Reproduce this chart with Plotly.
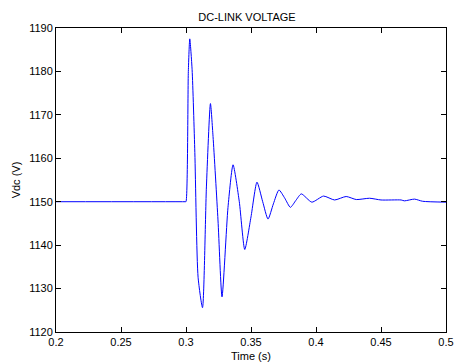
import plotly.graph_objects as go

# Time (s) and DC-link voltage (V)
time_s = [0.200, 0.2995, 0.3000, 0.3018, 0.3029, 0.3047, 0.3068, 0.3093, 0.3127,
          0.3157, 0.3188, 0.3208, 0.3246, 0.3277, 0.3323, 0.3362, 0.3410, 0.3452,
          0.3500, 0.3546, 0.3590, 0.3631, 0.3672, 0.3715, 0.3760, 0.3803, 0.3845,
          0.3887, 0.3968, 0.4058, 0.4143, 0.4232, 0.4310, 0.4412, 0.4500, 0.4655,
          0.4680, 0.4758, 0.4820, 0.5000]
vdc = [1150.0, 1150.0, 1150.0, 1180.0, 1187.5, 1180.4, 1161.3, 1132.6, 1125.6,
       1153.4, 1172.6, 1165.0, 1145.8, 1128.1, 1148.7, 1158.5, 1150.0, 1139.0,
       1146.5, 1154.5, 1150.0, 1146.0, 1149.5, 1152.7, 1150.8, 1148.7, 1150.3,
       1151.8, 1149.9, 1151.3, 1150.4, 1151.2, 1150.5, 1150.8, 1150.4, 1150.4,
       1150.2, 1150.6, 1150.1, 1149.9]

x_ticks = [0.2, 0.25, 0.3, 0.35, 0.4, 0.45, 0.5]
x_tick_labels = ["0.2", "0.25", "0.3", "0.35", "0.4", "0.45", "0.5"]
y_ticks = [1120, 1130, 1140, 1150, 1160, 1170, 1180, 1190]

font_family = "Liberation Sans, Arial, sans-serif"

fig = go.Figure()
fig.add_trace(go.Scatter(
    x=time_s, y=vdc, mode="lines",
    line=dict(color="#0000ff", width=1, shape="spline", smoothing=0.6),
    showlegend=False,
))

axis_common = dict(
    showline=True, linecolor="#000000", linewidth=1, mirror="ticks",
    ticks="inside", ticklen=5, tickcolor="#000000", tickwidth=1,
    showgrid=False, zeroline=False,
    tickfont=dict(family=font_family, size=11, color="#000000"),
)

fig.update_layout(
    width=454, height=364,
    margin=dict(l=56, r=8, t=28, b=32),
    paper_bgcolor="#ffffff", plot_bgcolor="#ffffff",
    font=dict(family=font_family, size=11, color="#000000"),
    title=dict(text="DC-LINK VOLTAGE", x=0.544, xanchor="center",
               y=0.953, yanchor="middle",
               font=dict(family=font_family, size=11, color="#000000")),
    xaxis=dict(range=[0.2, 0.5], tickvals=x_ticks, ticktext=x_tick_labels,
               title=dict(text="Time (s)", standoff=5,
                          font=dict(family=font_family, size=11)),
               automargin=False, **axis_common),
    yaxis=dict(range=[1120, 1190], tickvals=y_ticks,
               title=dict(text="Vdc (V)", standoff=6,
                          font=dict(family=font_family, size=11)),
               automargin=False, **axis_common),
)

fig.write_html("out.html")
